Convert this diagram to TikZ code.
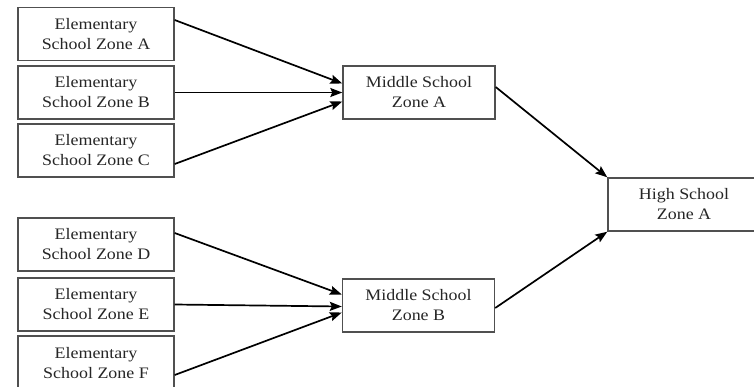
\documentclass[tikz,border=0pt]{standalone}
\usepackage{fontspec}
\setmainfont{Liberation Serif}[FakeStretch=1.12]
\usetikzlibrary{arrows.meta}
\definecolor{txt}{HTML}{262626}
\definecolor{edge}{HTML}{505050}
\tikzset{
  box/.style={draw=edge, line width=1.4pt, fill=white, align=center, text=txt,
    font=\fontsize{16}{20}\selectfont, inner sep=0pt},
  ebox/.style={box, minimum width=156pt, minimum height=53pt},
  mbox/.style={box, minimum width=152pt, minimum height=53pt},
  conn/.style={draw=black, line width=1.7pt, -{Stealth[length=12pt,width=9pt,inset=2pt]}}
}
\begin{document}
\begin{tikzpicture}[x=1pt,y=-1pt]
\useasboundingbox (0,0) rectangle (754,386);
\clip (0,0) rectangle (754,386);
\fill[white] (0,0) rectangle (754,386);
\node[ebox] (eA) at (96,34) {Elementary\\School Zone A};
\node[ebox] (eB) at (96,92.5) {Elementary\\School Zone B};
\node[ebox] (eC) at (96,150.5) {Elementary\\School Zone C};
\node[ebox] (eD) at (96,244.5) {Elementary\\School Zone D};
\node[ebox] (eE) at (96,304.5) {Elementary\\School Zone E};
\node[ebox, minimum height=54pt] (eF) at (96,363) {Elementary\\School Zone F};
\node[mbox] (mA) at (419,92.5) {Middle School\\Zone A};
\node[mbox] (mB) at (418.5,305.5) {Middle School\\Zone B};
\node[mbox] (hs) at (684,204.5) {High School\\Zone A};
\draw[conn] ([yshift=14pt]eA.east) -- ([yshift=9pt]mA.west);
\draw[conn] (eB.east) -- (mA.west);
\draw[conn] ([yshift=-13.5pt]eC.east) -- ([yshift=-9pt]mA.west);
\draw[conn] ([yshift=11.5pt]eD.east) -- ([yshift=11pt]mB.west);
\draw[conn] (eE.east) -- ([yshift=-1pt]mB.west);
\draw[conn] ([yshift=-12pt]eF.east) -- ([yshift=-7pt]mB.west);
\draw[conn] ([yshift=5.5pt]mA.east) -- (hs.north west);
\draw[conn] ([yshift=-2.5pt]mB.east) -- (hs.south west);
\end{tikzpicture}
\end{document}
